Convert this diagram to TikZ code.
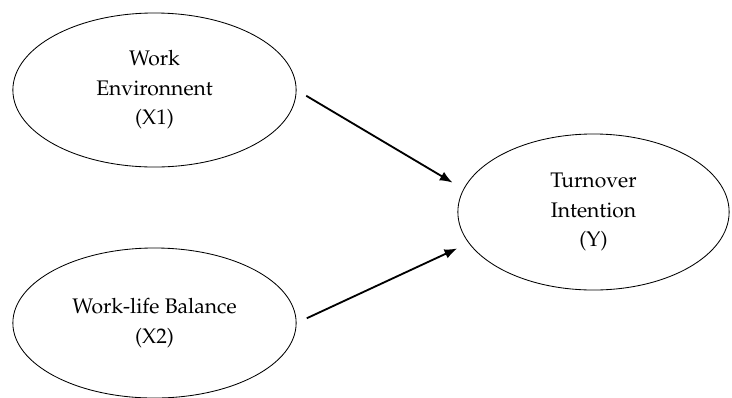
\documentclass[tikz,border=0pt]{standalone}
\usepackage[T1]{fontenc}
\usepackage{mathpazo}
\usetikzlibrary{shapes.geometric,arrows.meta}

\begin{document}
\begin{tikzpicture}[x=0.025cm,y=-0.025cm,
    every node/.style={draw,ellipse,line width=0.6pt,inner sep=0pt,align=center,font=\fontsize{15}{21}\selectfont},
    link/.style={-{Latex[length=9pt,width=7pt]},line width=1.3pt,shorten <=8pt,shorten >=9pt}]
    \useasboundingbox (0,0) rectangle (732,397);

    \node[minimum width=7.08cm,minimum height=3.85cm] (x1) at (154.5,90) {Work\\Environnent\\(X1)};
    \node[minimum width=7.08cm,minimum height=3.75cm] (x2) at (154.5,323) {Work-life Balance\\(X2)};
    \node[minimum width=6.78cm,minimum height=3.9cm] (y) at (593.5,212) {Turnover\\Intention\\(Y)};

    \draw[link] (x1.east) -- (y.170) ;
    \draw[link] (x2.east) -- (y.194) ;
\end{tikzpicture}
\end{document}
